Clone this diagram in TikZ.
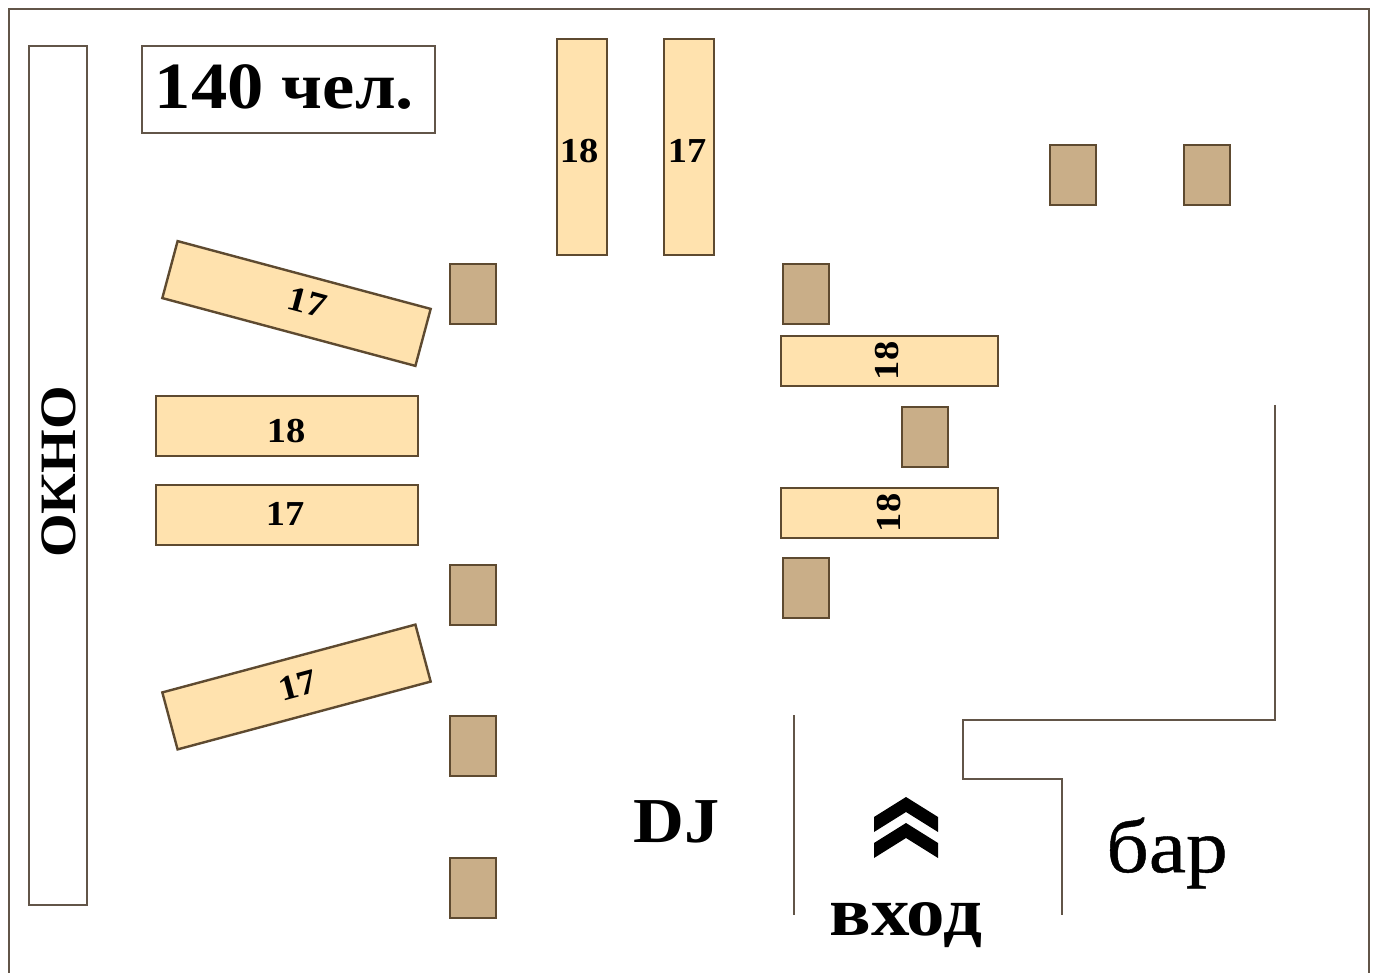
\documentclass[tikz,border=0pt]{standalone}
\usepackage{fontspec}
\setmainfont[FakeStretch=1.1]{Liberation Serif}
\newfontfamily\barfont[FakeStretch=1.1,FakeBold=0.6]{Liberation Serif}
\definecolor{wallc}{HTML}{625548}
\definecolor{tablef}{HTML}{FFE2AE}
\definecolor{tabled}{HTML}{5E4A30}
\definecolor{chairf}{HTML}{C9AE88}
\tikzset{
  x=1pt,y=-1pt,
  wallline/.style={draw=wallc,line width=2.6pt,line join=miter},
  tbl/.style={draw=tabled,fill=tablef,line width=2.4pt,inner sep=0,outer sep=0,anchor=center},
  chair/.style={draw=tabled,fill=chairf,line width=2.4pt,minimum width=46pt,minimum height=60pt,inner sep=0,anchor=center},
  num/.style={font=\bfseries\fontsize{35}{35}\selectfont,inner sep=0,anchor=center},
  big/.style={font=\bfseries\fontsize{#1}{#1}\selectfont,inner sep=0,anchor=center},
  reg/.style={font=\barfont\fontsize{#1}{#1}\selectfont,inner sep=0,anchor=center},
}
\begin{document}
\begin{tikzpicture}
\useasboundingbox (0,0) rectangle (1377,973);
\fill[white] (0,0) rectangle (1377,973);
\coordinate (f1) at (9,980);
\coordinate (f2) at (9,9);
\coordinate (f3) at (1369,9);
\coordinate (f4) at (1369,980);
\begin{scope}
\clip (0,0) rectangle (1377,973);
\draw[wallline] (f1) -- (f2) -- (f3) -- (f4);
\end{scope}
% window and capacity box
\node[draw=wallc,line width=2.6pt,minimum width=58pt,minimum height=859pt,inner sep=0] (window) at (58,475.5) {};
\node[big=51,rotate=90] (okno) at (59,472) {ОКНО};
\node[draw=wallc,line width=2.6pt,minimum width=293pt,minimum height=87pt,inner sep=0] (cap) at (288.5,89.5) {};
\node[big=66] (captxt) at (284.5,87) {140 чел.};
% tables
\node[tbl,minimum width=50pt,minimum height=216pt] (t1) at (582,147) {};
\node[num] (l1) at (579,151) {18};
\node[tbl,minimum width=50pt,minimum height=216pt] (t2) at (689,147) {};
\node[num] (l2) at (687,151) {17};
\node[tbl,minimum width=262pt,minimum height=59pt,rotate=-15] (t3) at (296.5,303.5) {};
\node[num,rotate=-15] (l3) at (307,302) {17};
\node[tbl,minimum width=262pt,minimum height=60pt] (t4) at (287,426) {};
\node[num] (l4) at (286,431) {18};
\node[tbl,minimum width=262pt,minimum height=60pt] (t5) at (287,515) {};
\node[num] (l5) at (285,514) {17};
\node[tbl,minimum width=262pt,minimum height=59pt,rotate=15] (t6) at (296.5,687) {};
\node[num,rotate=15] (l6) at (298,685) {17};
\node[tbl,minimum width=217pt,minimum height=50pt] (t7) at (889.5,361) {};
\node[num,rotate=90] (l7) at (887,361) {18};
\node[tbl,minimum width=217pt,minimum height=50pt] (t8) at (889.5,513) {};
\node[num,rotate=90] (l8) at (889,513) {18};
% chairs
\node[chair] (c1) at (473,294) {};
\node[chair] (c2) at (473,595) {};
\node[chair] (c3) at (473,746) {};
\node[chair] (c4) at (473,888) {};
\node[chair] (c5) at (806,294) {};
\node[chair] (c6) at (925,437) {};
\node[chair] (c7) at (806,588) {};
\node[chair] (c8) at (1073,175) {};
\node[chair] (c9) at (1207,175) {};
% walls
\coordinate (w1) at (794,715);
\coordinate (w2) at (794,915);
\draw[wallline] (w1) -- (w2);
\coordinate (b1) at (1275,405);
\coordinate (b2) at (1275,720);
\coordinate (b3) at (963,720);
\coordinate (b4) at (963,779);
\coordinate (b5) at (1062,779);
\coordinate (b6) at (1062,915);
\draw[wallline] (b1) -- (b2) -- (b3) -- (b4) -- (b5) -- (b6);
% entrance chevrons
\fill[black] (906,797) -- (938,817) -- (938,832) -- (906,812) -- (874,832) -- (874,817) -- cycle;
\fill[black] (906,823) -- (938,843) -- (938,858) -- (906,838) -- (874,858) -- (874,843) -- cycle;
% labels
\node[big=64] (dj) at (677,822) {DJ};
\node[reg=76] (bar) at (1167,853) {бар};
\node[big=70] (vhod) at (906,925) {вход};
\end{tikzpicture}
\end{document}
